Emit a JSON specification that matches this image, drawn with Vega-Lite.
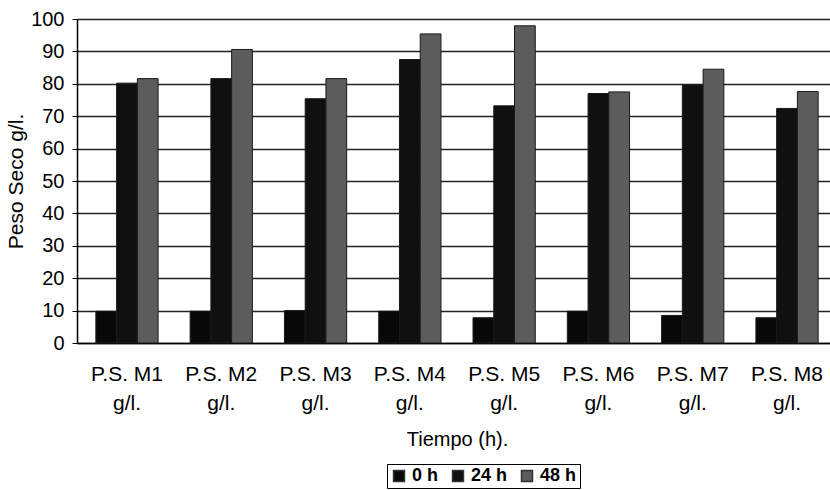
{
  "$schema": "https://vega.github.io/schema/vega-lite/v6.json",
  "width": 753,
  "height": 324,
  "autosize": {"type": "none"},
  "padding": {"left": 77, "top": 19, "right": 0, "bottom": 147},
  "background": "white",
  "config": {
    "font": "Liberation Sans",
    "view": {"stroke": null},
    "axis": {"labelColor": "black", "titleColor": "black", "labelFont": "Liberation Sans", "titleFont": "Liberation Sans"}
  },
  "data": {
    "values": [
      {"muestra": "M1", "tiempo": "0 h", "peso": 9.8},
      {"muestra": "M1", "tiempo": "24 h", "peso": 80.2},
      {"muestra": "M1", "tiempo": "48 h", "peso": 81.6},
      {"muestra": "M2", "tiempo": "0 h", "peso": 9.8},
      {"muestra": "M2", "tiempo": "24 h", "peso": 81.6},
      {"muestra": "M2", "tiempo": "48 h", "peso": 90.6},
      {"muestra": "M3", "tiempo": "0 h", "peso": 10.0},
      {"muestra": "M3", "tiempo": "24 h", "peso": 75.4},
      {"muestra": "M3", "tiempo": "48 h", "peso": 81.6},
      {"muestra": "M4", "tiempo": "0 h", "peso": 9.8},
      {"muestra": "M4", "tiempo": "24 h", "peso": 87.5},
      {"muestra": "M4", "tiempo": "48 h", "peso": 95.4},
      {"muestra": "M5", "tiempo": "0 h", "peso": 7.8},
      {"muestra": "M5", "tiempo": "24 h", "peso": 73.2},
      {"muestra": "M5", "tiempo": "48 h", "peso": 97.9},
      {"muestra": "M6", "tiempo": "0 h", "peso": 9.8},
      {"muestra": "M6", "tiempo": "24 h", "peso": 77.0},
      {"muestra": "M6", "tiempo": "48 h", "peso": 77.5},
      {"muestra": "M7", "tiempo": "0 h", "peso": 8.5},
      {"muestra": "M7", "tiempo": "24 h", "peso": 79.6},
      {"muestra": "M7", "tiempo": "48 h", "peso": 84.5},
      {"muestra": "M8", "tiempo": "0 h", "peso": 7.8},
      {"muestra": "M8", "tiempo": "24 h", "peso": 72.4},
      {"muestra": "M8", "tiempo": "48 h", "peso": 77.6}
    ]
  },
  "mark": {"type": "bar", "stroke": "#1a1a1a", "strokeWidth": 1},
  "encoding": {
    "x": {
      "field": "muestra",
      "type": "nominal",
      "sort": null,
      "scale": {"range": [0, 760], "paddingInner": 0.34, "paddingOuter": 0.2},
      "axis": {
        "title": "Tiempo (h).",
        "titleFontSize": 20,
        "titleFontWeight": "normal",
        "titlePadding": 16,
        "labelExpr": "['P.S. ' + datum.label, 'g/l.']",
        "labelAngle": 0,
        "labelFontSize": 21,
        "labelLineHeight": 29,
        "labelPadding": 20,
        "ticks": false,
        "domainColor": "black",
        "domainWidth": 1.5
      }
    },
    "xOffset": {"field": "tiempo", "type": "nominal", "sort": ["0 h", "24 h", "48 h"]},
    "y": {
      "field": "peso",
      "type": "quantitative",
      "scale": {"domain": [0, 100]},
      "axis": {
        "title": "Peso Seco g/l.",
        "titleFontSize": 21,
        "titleFontWeight": "normal",
        "titlePadding": 4,
        "values": [0, 10, 20, 30, 40, 50, 60, 70, 80, 90, 100],
        "labelFontSize": 20,
        "labelPadding": 8,
        "tickSize": 5,
        "tickColor": "black",
        "domainColor": "black",
        "domainWidth": 1.5,
        "gridColor": "#222222",
        "gridWidth": 1.3,
        "gridOpacity": 1
      }
    },
    "color": {
      "field": "tiempo",
      "type": "nominal",
      "sort": ["0 h", "24 h", "48 h"],
      "scale": {"domain": ["0 h", "24 h", "48 h"], "range": ["#080808", "#101010", "#5c5c5c"]},
      "legend": {
        "title": null,
        "orient": "none",
        "legendX": 310,
        "legendY": 445,
        "direction": "horizontal",
        "symbolType": "square",
        "symbolSize": 120,
        "symbolStrokeColor": "#333",
        "symbolOpacity": 1,
        "labelFontSize": 18,
        "labelFontWeight": "bold",
        "labelColor": "black",
        "columnPadding": 10,
        "labelOffset": 4,
        "strokeColor": "black",
        "padding": 3
      }
    }
  }
}
